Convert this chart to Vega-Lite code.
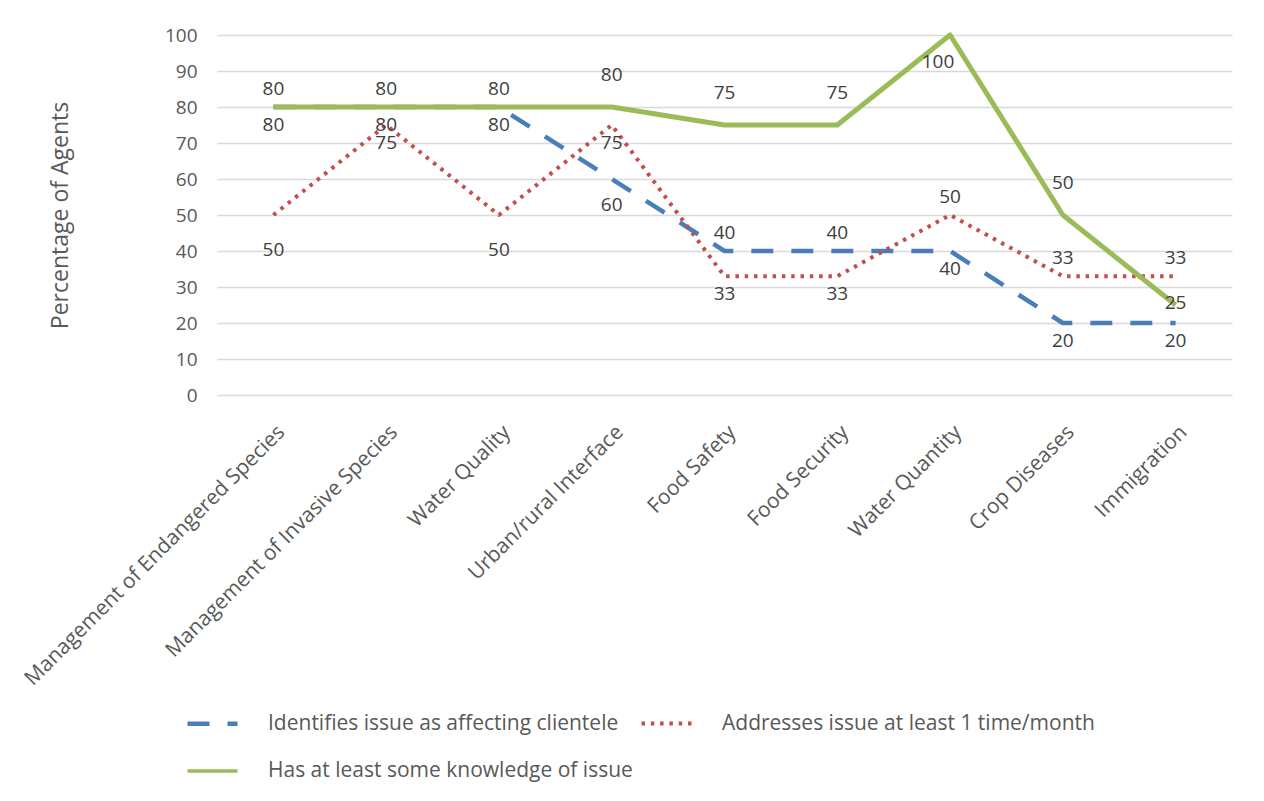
{
  "$schema": "https://vega.github.io/schema/vega-lite/v6.json",
  "autosize": "none",
  "width": 1015,
  "height": 360,
  "padding": {"left": 217, "top": 35, "right": 32, "bottom": 406},
  "background": "#ffffff",
  "config": {
    "font": "Open Sans",
    "view": {"stroke": null},
    "axis": {"labelFont": "Open Sans", "labelColor": "#595959", "titleFont": "Open Sans", "titleColor": "#595959", "titleFontWeight": "normal"}
  },
  "data": {
    "values": [
      {"category": "Management of Endangered Species", "series": "Identifies issue as affecting clientele", "value": 80},
      {"category": "Management of Invasive Species", "series": "Identifies issue as affecting clientele", "value": 80},
      {"category": "Water Quality", "series": "Identifies issue as affecting clientele", "value": 80},
      {"category": "Urban/rural Interface", "series": "Identifies issue as affecting clientele", "value": 60},
      {"category": "Food Safety", "series": "Identifies issue as affecting clientele", "value": 40},
      {"category": "Food Security", "series": "Identifies issue as affecting clientele", "value": 40},
      {"category": "Water Quantity", "series": "Identifies issue as affecting clientele", "value": 40},
      {"category": "Crop Diseases", "series": "Identifies issue as affecting clientele", "value": 20},
      {"category": "Immigration", "series": "Identifies issue as affecting clientele", "value": 20},
      {"category": "Management of Endangered Species", "series": "Addresses issue at least 1 time/month", "value": 50},
      {"category": "Management of Invasive Species", "series": "Addresses issue at least 1 time/month", "value": 75},
      {"category": "Water Quality", "series": "Addresses issue at least 1 time/month", "value": 50},
      {"category": "Urban/rural Interface", "series": "Addresses issue at least 1 time/month", "value": 75},
      {"category": "Food Safety", "series": "Addresses issue at least 1 time/month", "value": 33},
      {"category": "Food Security", "series": "Addresses issue at least 1 time/month", "value": 33},
      {"category": "Water Quantity", "series": "Addresses issue at least 1 time/month", "value": 50},
      {"category": "Crop Diseases", "series": "Addresses issue at least 1 time/month", "value": 33},
      {"category": "Immigration", "series": "Addresses issue at least 1 time/month", "value": 33},
      {"category": "Management of Endangered Species", "series": "Has at least some knowledge of issue", "value": 80},
      {"category": "Management of Invasive Species", "series": "Has at least some knowledge of issue", "value": 80},
      {"category": "Water Quality", "series": "Has at least some knowledge of issue", "value": 80},
      {"category": "Urban/rural Interface", "series": "Has at least some knowledge of issue", "value": 80},
      {"category": "Food Safety", "series": "Has at least some knowledge of issue", "value": 75},
      {"category": "Food Security", "series": "Has at least some knowledge of issue", "value": 75},
      {"category": "Water Quantity", "series": "Has at least some knowledge of issue", "value": 100},
      {"category": "Crop Diseases", "series": "Has at least some knowledge of issue", "value": 50},
      {"category": "Immigration", "series": "Has at least some knowledge of issue", "value": 25}
    ]
  },
  "encoding": {
    "x": {
      "field": "category", "type": "nominal", "sort": null,
      "scale": {"type": "point", "padding": 0.5},
      "axis": {"title": null, "labelAngle": -45, "labelFontSize": 21, "labelPadding": 26, "ticks": false, "domain": false, "grid": false, "labelLimit": 600}
    },
    "y": {
      "field": "value", "type": "quantitative",
      "scale": {"domain": [0, 100], "nice": false},
      "axis": {"title": "Percentage of Agents", "values": [0,10,20,30,40,50,60,70,80,90,100], "labelFontSize": 19, "labelPadding": 20, "ticks": false, "domain": false, "gridColor": "#d9d9d9", "gridWidth": 1.5, "titleFontSize": 23, "titlePadding": 92}
    }
  },
  "layer": [
    {
      "transform": [{"filter": "datum.series !== 'Has at least some knowledge of issue'"}],
      "mark": {"type": "line", "strokeCap": "butt", "strokeJoin": "round"},
      "encoding": {
        "color": {
          "field": "series", "type": "nominal", "sort": null,
          "scale": {"domain": ["Identifies issue as affecting clientele", "Addresses issue at least 1 time/month", "Has at least some knowledge of issue"], "range": ["#4a7ebb", "#c0504d", "#9bbb59"]},
          "legend": {"orient": "none", "legendX": -32, "legendY": 661, "columns": 2, "direction": "horizontal", "title": null, "symbolType": "stroke", "symbolSize": 2500, "labelFont": "Open Sans", "labelFontSize": 21, "labelColor": "#595959", "labelOffset": 28, "rowPadding": 10, "columnPadding": 0, "labelLimit": 600}
        },
        "strokeDash": {
          "field": "series", "type": "nominal", "sort": null,
          "scale": {"domain": ["Identifies issue as affecting clientele", "Addresses issue at least 1 time/month", "Has at least some knowledge of issue"], "range": [[22, 18], [3.5, 5.8], [1, 0]]}
        },
        "strokeWidth": {
          "field": "series", "type": "nominal", "sort": null,
          "scale": {"domain": ["Identifies issue as affecting clientele", "Addresses issue at least 1 time/month", "Has at least some knowledge of issue"], "range": [4.5, 3.5, 5]}
        }
      }
    },
    {
      "transform": [{"filter": "datum.series === 'Has at least some knowledge of issue'"}],
      "mark": {"type": "line", "strokeCap": "butt", "strokeJoin": "round", "color": "#9bbb59", "strokeWidth": 5}
    },
    {
      "transform": [{"filter": "(datum.series === 'Has at least some knowledge of issue' && indexof(['Urban/rural Interface','Food Safety','Food Security','Crop Diseases'], datum.category) >= 0)"}],
      "mark": {"type": "text", "dy": -32, "fontSize": 19, "color": "#404040"},
      "encoding": {"text": {"field": "value", "type": "quantitative"}}
    },
    {
      "transform": [{"filter": "(datum.series === 'Has at least some knowledge of issue' && indexof(['Management of Endangered Species','Management of Invasive Species','Water Quality'], datum.category) >= 0) || (datum.series === 'Identifies issue as affecting clientele' && indexof(['Food Safety','Food Security'], datum.category) >= 0) || (datum.series === 'Addresses issue at least 1 time/month' && indexof(['Water Quantity','Crop Diseases','Immigration'], datum.category) >= 0)"}],
      "mark": {"type": "text", "dy": -18, "fontSize": 19, "color": "#404040"},
      "encoding": {"text": {"field": "value", "type": "quantitative"}}
    },
    {
      "transform": [{"filter": "datum.series === 'Has at least some knowledge of issue' && datum.category === 'Water Quantity'"}],
      "mark": {"type": "text", "dy": 27, "dx": -12, "fontSize": 19, "color": "#404040"},
      "encoding": {"text": {"field": "value", "type": "quantitative"}}
    },
    {
      "transform": [{"filter": "datum.series === 'Has at least some knowledge of issue' && datum.category === 'Immigration'"}],
      "mark": {"type": "text", "dy": -2, "fontSize": 19, "color": "#404040"},
      "encoding": {"text": {"field": "value", "type": "quantitative"}}
    },
    {
      "transform": [{"filter": "(datum.series === 'Identifies issue as affecting clientele' && indexof(['Management of Endangered Species','Management of Invasive Species','Water Quality','Water Quantity','Crop Diseases','Immigration'], datum.category) >= 0) || (datum.series === 'Addresses issue at least 1 time/month' && indexof(['Management of Invasive Species','Urban/rural Interface','Food Safety','Food Security'], datum.category) >= 0)"}],
      "mark": {"type": "text", "dy": 18, "fontSize": 19, "color": "#404040"},
      "encoding": {"text": {"field": "value", "type": "quantitative"}}
    },
    {
      "transform": [{"filter": "datum.series === 'Identifies issue as affecting clientele' && datum.category === 'Urban/rural Interface'"}],
      "mark": {"type": "text", "dy": 26, "fontSize": 19, "color": "#404040"},
      "encoding": {"text": {"field": "value", "type": "quantitative"}}
    },
    {
      "transform": [{"filter": "datum.series === 'Addresses issue at least 1 time/month' && indexof(['Management of Endangered Species','Water Quality'], datum.category) >= 0"}],
      "mark": {"type": "text", "dy": 35, "fontSize": 19, "color": "#404040"},
      "encoding": {"text": {"field": "value", "type": "quantitative"}}
    }
  ]
}
